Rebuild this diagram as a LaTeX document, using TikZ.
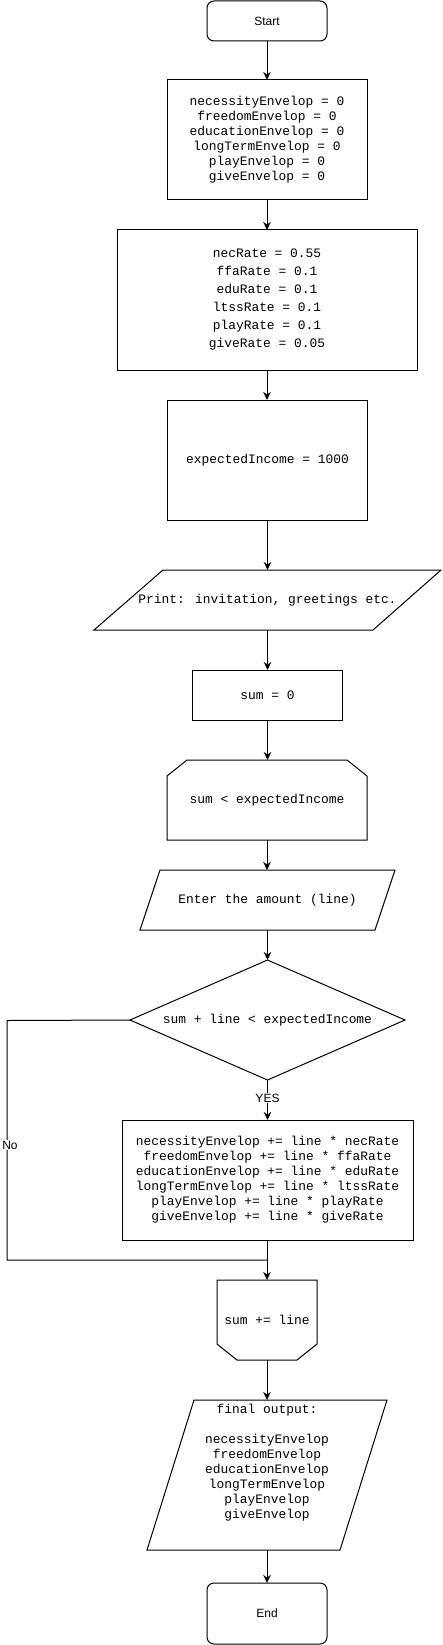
\documentclass[tikz,border=0pt]{standalone}
\usepackage{fontspec}
\setmainfont{Liberation Sans}
\newfontfamily\cour{Liberation Mono}
\usetikzlibrary{arrows.meta}
\begin{document}
\begin{tikzpicture}[x=1pt,y=-1pt,
  every node/.style={inner sep=0pt,outer sep=0pt},
  box/.style={draw,line width=1pt,rectangle,align=center},
  frame/.style={rectangle,align=center},
  code/.style={font=\cour\fontsize{12.9}{15}\selectfont},
  sans/.style={font=\fontsize{12}{14}\selectfont},
  outl/.style={draw,line width=1pt,line join=miter},
  arr/.style={line width=1pt,-{Stealth[length=8pt,width=7.5pt,inset=2.5pt]}},
  lnk/.style={line width=1pt},
  lbl/.style={fill=white,inner sep=1pt,font=\fontsize{12}{14}\selectfont}
]
\useasboundingbox (0,0) rectangle (442,1645);
% Start
\node[box,sans,rounded corners=7pt,minimum width=120pt,minimum height=40pt] (start) at (267,21) {Start};
% box 1
\node[box,code,minimum width=200pt,minimum height=120pt] (init) at (267,140)
 {necessityEnvelop = 0\\freedomEnvelop = 0\\educationEnvelop = 0\\longTermEnvelop = 0\\playEnvelop = 0\\giveEnvelop = 0};
% box 2
\node[box,code,minimum width=300pt,minimum height=140pt,font=\cour\fontsize{12.9}{18}\selectfont] (rates) at (267,300)
 {necRate = 0.55\\ffaRate = 0.1\\eduRate = 0.1\\ltssRate = 0.1\\playRate = 0.1\\giveRate = 0.05};
% box 3
\node[box,code,minimum width=200pt,minimum height=120pt] (income) at (267.5,460) {expectedIncome = 1000};
% print parallelogram
\node[frame,code,minimum width=347pt,minimum height=60pt] (print) at (267.5,600) {Print: invitation, greetings etc.};
\draw[outl] ([xshift=69pt]print.north west) -- (print.north east) -- ([xshift=-68pt]print.south east) -- (print.south west) -- cycle;
% sum = 0
\node[box,code,minimum width=150pt,minimum height=50pt] (sumzero) at (267.5,695) {sum = 0};
% loop limit
\node[frame,code,minimum width=200pt,minimum height=80pt] (loop) at (267,800) {sum < expectedIncome};
\draw[outl] ([xshift=20pt]loop.north west) -- ([xshift=-20pt]loop.north east) -- ([yshift=-16pt]loop.north east) -- (loop.south east) -- (loop.south west) -- ([yshift=-16pt]loop.north west) -- cycle;
% enter parallelogram
\node[frame,code,minimum width=255pt,minimum height=60pt] (enter) at (267.5,900) {Enter the amount (line)};
\draw[outl] ([xshift=20pt]enter.north west) -- (enter.north east) -- ([xshift=-20pt]enter.south east) -- (enter.south west) -- cycle;
% diamond
\node[frame,code,minimum width=275pt,minimum height=120pt] (cond) at (267.5,1020) {sum + line < expectedIncome};
\draw[outl] (cond.north) -- (cond.east) -- (cond.south) -- (cond.west) -- cycle;
% box 4
\node[box,code,minimum width=291pt,minimum height=120pt] (update) at (267.5,1180)
 {necessityEnvelop += line * necRate\\freedomEnvelop += line * ffaRate\\educationEnvelop += line * eduRate\\longTermEnvelop += line * ltssRate\\playEnvelop += line * playRate\\giveEnvelop += line * giveRate};
% loop end
\node[frame,code,minimum width=100pt,minimum height=80pt] (loopend) at (267,1320) {sum += line};
\draw[outl] (loopend.north west) -- (loopend.north east) -- ([yshift=16pt]loopend.south east) -- ([xshift=-20pt]loopend.south east) -- ([xshift=20pt]loopend.south west) -- ([yshift=16pt]loopend.south west) -- cycle;
% final output
\node[frame,minimum width=240pt,minimum height=150pt] (final) at (267,1475) {};
\draw[outl] ([xshift=47pt]final.north west) -- (final.north east) -- ([xshift=-47pt]final.south east) -- (final.south west) -- cycle;
\node[code,align=center,anchor=north] (finaltext) at (267,1404.5)
 {final output:\\[15pt]necessityEnvelop\\freedomEnvelop\\educationEnvelop\\longTermEnvelop\\playEnvelop\\giveEnvelop};
% End
\node[box,sans,rounded corners=7pt,minimum width=120pt,minimum height=61pt] (stop) at (267,1613.5) {End};
% connectors
\draw[arr] (start.south) -- (init.north);
\draw[arr] (init.south) -- (rates.north);
\draw[arr] (rates.south) -- (income.north -| rates.south);
\draw[arr] (income.south) -- (print.north);
\draw[arr] (print.south) -- (sumzero.north);
\draw[arr] (sumzero.south) -- (loop.north -| sumzero.south);
\draw[arr] (loop.south) -- (enter.north -| loop.south);
\draw[arr] (enter.south) -- (cond.north);
\draw[arr] (cond.south) -- node[lbl,pos=0.45] (yes) {YES} (update.north);
\coordinate (nobend1) at (7,1020.5);
\coordinate (nobend2) at (7,1260);
\coordinate (join) at (267,1260);
\draw[lnk] (cond.west) -- (nobend1) -- node[lbl,pos=0.52,xshift=3pt] (no) {No} (nobend2) -- (join);
\draw[arr] (update.south -| loopend.north) -- (loopend.north);
\draw[arr] (loopend.south) -- (final.north);
\draw[arr] (final.south) -- (stop.north);
\end{tikzpicture}
\end{document}
